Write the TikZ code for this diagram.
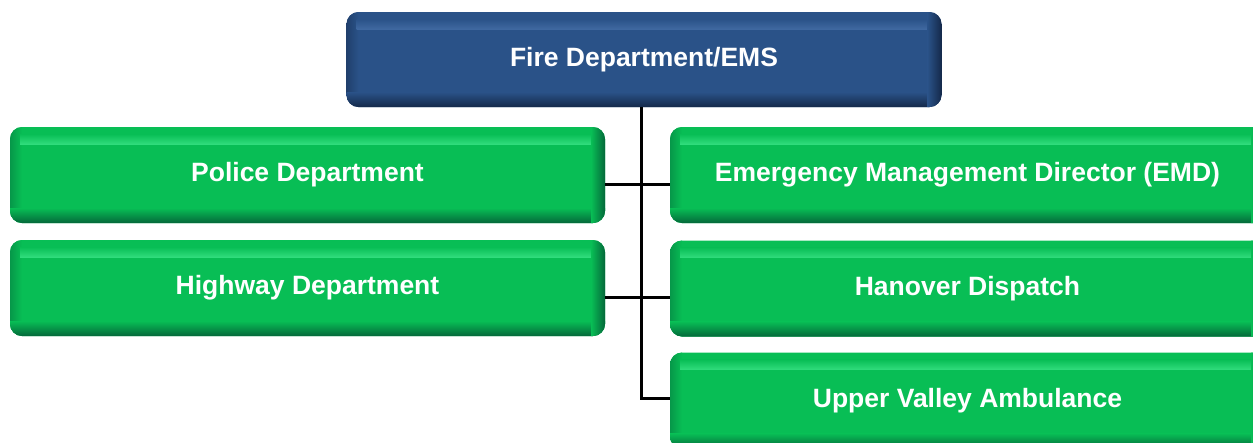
\documentclass[tikz,border=0pt]{standalone}
\usepackage{fontspec}
\setmainfont{Liberation Sans}
\definecolor{bmain}{HTML}{2A5288}
\definecolor{bdark}{HTML}{14294A}
\definecolor{blight}{HTML}{3F68A0}
\definecolor{gmain}{HTML}{08BE55}
\definecolor{gdark}{HTML}{04683A}
\definecolor{glight}{HTML}{30DC7C}
\tikzset{
  bevelbox/.style n args={3}{rectangle, rounded corners=12pt, minimum width=595pt, minimum height=96pt,
    fill=#1, text=white, font=\fontsize{26.5}{30}\selectfont\bfseries, inner sep=0pt,
    path picture={
      \begin{scope}[sharp corners]
      \shade[left color=#2!45!#1, right color=#1] (path picture bounding box.south west) rectangle ([xshift=12pt]path picture bounding box.north west);
      \shade[top color=#1, bottom color=#3] ([xshift=10pt,yshift=-7pt]path picture bounding box.north west) rectangle ([xshift=-12pt,yshift=-17pt]path picture bounding box.north east);
      \shade[top color=#1, bottom color=#2] ([yshift=15pt]path picture bounding box.south west) rectangle (path picture bounding box.south east);
      \shade[left color=#1, right color=#2] ([xshift=-14pt]path picture bounding box.south east) rectangle (path picture bounding box.north east);
      \end{scope}
    }},
  bluebox/.style={bevelbox={bmain}{bdark}{blight}},
  greenbox/.style={bevelbox={gmain}{gdark}{glight}},
  conn/.style={line width=3pt, black}
}
\begin{document}
\begin{tikzpicture}[x=1pt,y=-1pt]
\useasboundingbox (0,0) rectangle (1253,442);
\node[bluebox, minimum height=95pt] (top) at (644,59.5) {Fire Department/EMS};
\node[greenbox] (police) at (307.5,175) {Police Department};
\node[greenbox] (highway) at (307.5,288) {Highway Department};
\node[greenbox] (emd) at (967.5,175) {Emergency Management Director (EMD)};
\node[greenbox] (hanover) at (967.5,288.5) {Hanover Dispatch};
\node[greenbox] (upper) at (967.5,400.5) {Upper Valley Ambulance};
\coordinate (j1) at (641,184);
\coordinate (j2) at (641,297);
\coordinate (j3) at (641,398);
\draw[conn] (top.south -| j3) -- (j3) -- (upper.west |- j3);
\draw[conn] (police.east |- j1) -- (emd.west |- j1);
\draw[conn] (highway.east |- j2) -- (hanover.west |- j2);
\end{tikzpicture}
\end{document}
